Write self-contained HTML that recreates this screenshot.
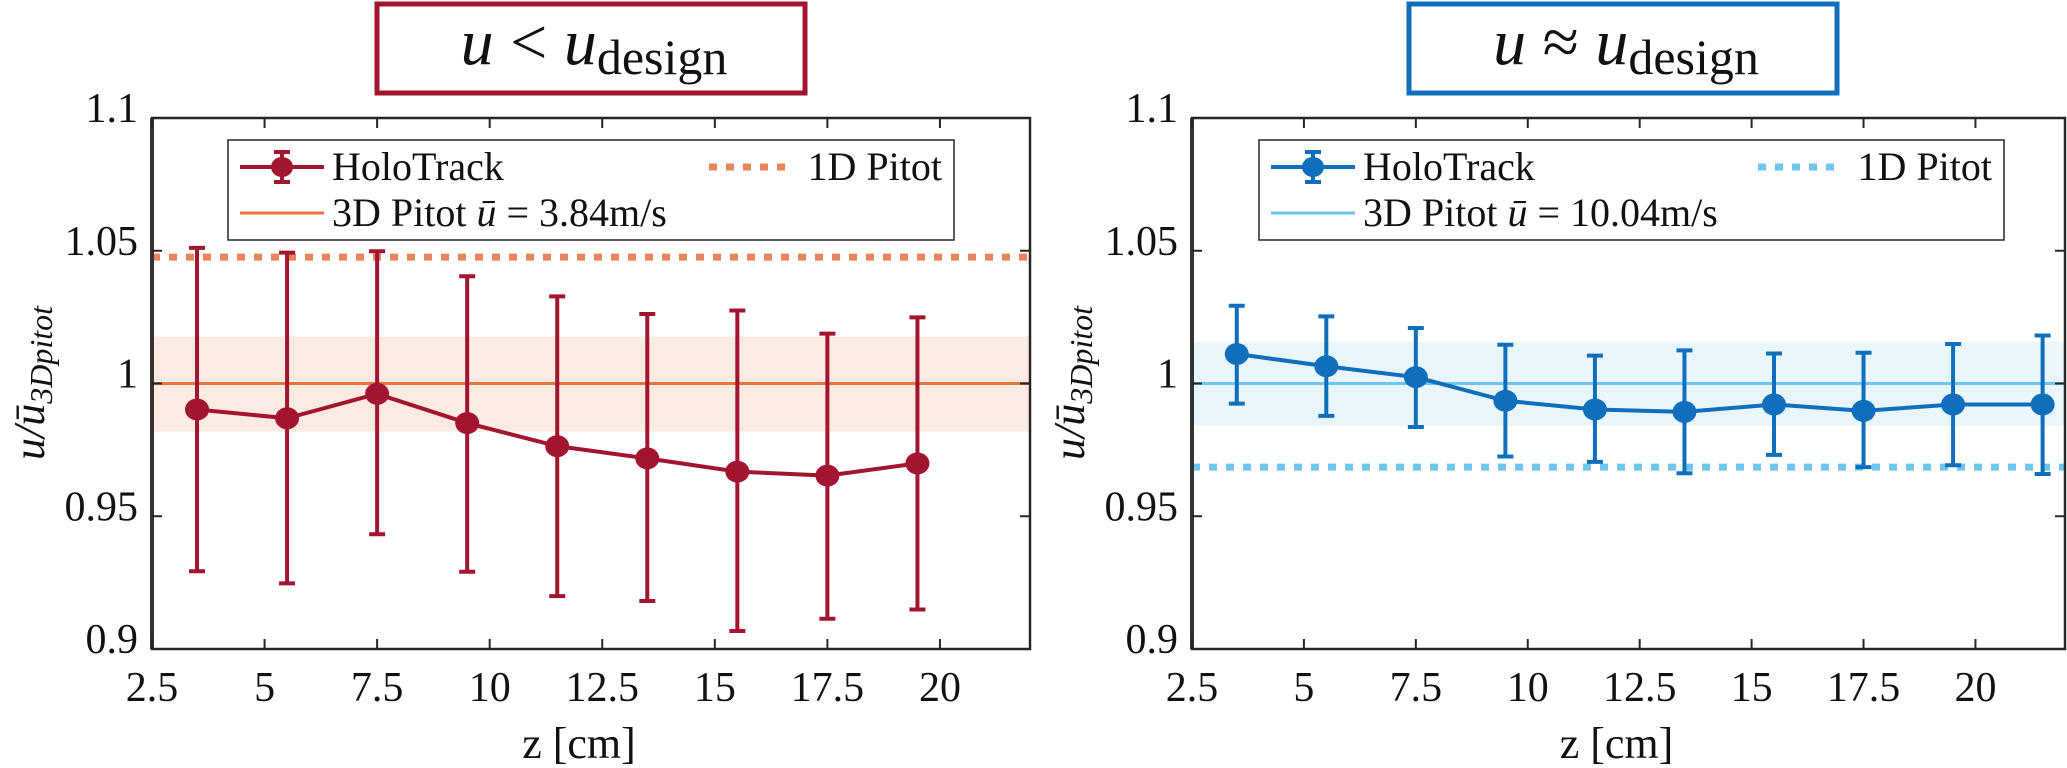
<!DOCTYPE html>
<html><head><meta charset="utf-8"><style>
html,body{margin:0;padding:0;background:#fff;}
svg{display:block;font-family:"Liberation Serif","DejaVu Serif",serif;}
text{font-family:"Liberation Serif","DejaVu Serif",serif;}
</style></head><body>
<svg id="chart" width="2067" height="768" viewBox="0 0 2067 768" xmlns="http://www.w3.org/2000/svg" font-family="Liberation Serif, serif"></svg>
<script>
const zLeft = [3.5,5.5,7.5,9.5,11.5,13.5,15.5,17.5,19.5];
const valLeft = [0.9902,0.9869,0.9961,0.9851,0.9764,0.9718,0.9668,0.9653,0.9699];
const hiLeft = [1.0511,1.0493,1.0498,1.0404,1.0328,1.0262,1.0275,1.0188,1.0249];
const loLeft = [0.9293,0.9247,0.9432,0.9291,0.9199,0.9181,0.9068,0.9114,0.9149];
const pitot1DLeft = 1.0476;
const bandLeft = [0.9819,1.0177];
const zRight = [3.5,5.5,7.5,9.5,11.5,13.5,15.5,17.5,19.5,21.5];
const valRight = [1.0111,1.0065,1.0024,0.9935,0.9902,0.9893,0.9921,0.9897,0.9921,0.9921];
const hiRight = [1.0293,1.0253,1.0209,1.0146,1.0105,1.0125,1.0113,1.0116,1.0149,1.0181];
const loRight = [0.9924,0.9878,0.9836,0.9725,0.9705,0.9662,0.9731,0.9685,0.9692,0.9659];
const pitot1DRight = 0.9685;
const bandRight = [0.9841,1.0157];
const xTicks = [2.5,5,7.5,10,12.5,15,17.5,20];
const xTickLabels = ["2.5","5","7.5","10","12.5","15","17.5","20"];
const yTicks = [0.9,0.95,1,1.05,1.1];
const yTickLabels = ["0.9","0.95","1","1.05","1.1"];

const NS="http://www.w3.org/2000/svg";
const svg=document.getElementById('chart');
const FF='"Liberation Serif", "DejaVu Serif", serif';
function mk(tag,attrs,parent,text){const e=document.createElementNS(NS,tag);for(const k in attrs)e.setAttribute(k,attrs[k]);if(tag==='text')e.setAttribute('font-family',FF);if(text!==undefined)e.textContent=text;(parent||svg).appendChild(e);return e;}

function panel(p){
  const g=mk('g',{});
  
  
  const L=p.x0,R=p.x1,T=118,B=649;
  const xs=v=>L+(v-2.5)/(22-2.5)*(R-L);
  const ys=v=>B-(v-0.9)/(0.2)*(B-T);
  const band=mk('rect',{x:L,y:ys(p.band[1]),width:R-L,height:ys(p.band[0])-ys(p.band[1]),fill:p.bandCol},g);
  
  
  const l3=mk('line',{x1:L,x2:R,y1:ys(1),y2:ys(1),stroke:p.light,'stroke-width':3},g);
  
  
  const l1=mk('line',{x1:L,x2:R,y1:ys(p.p1d),y2:ys(p.p1d),stroke:p.dot,'stroke-width':7,'stroke-dasharray':'8 9'},g);
  
  
  for(let i=0;i<p.z.length;i++){
    const x=xs(p.z[i]);
    const eb=mk('path',{d:`M${x},${ys(p.lo[i])}V${ys(p.hi[i])}M${x-8},${ys(p.lo[i])}h16M${x-8},${ys(p.hi[i])}h16`,stroke:p.col,'stroke-width':4,fill:'none'},g);
    
    
  }
  const pl=mk('polyline',{points:p.z.map((z,i)=>xs(z)+','+ys(p.v[i])).join(' '),fill:'none',stroke:p.col,'stroke-width':4},g);
  
  
  for(let i=0;i<p.z.length;i++){
    const c=mk('ellipse',{cx:xs(p.z[i]),cy:ys(p.v[i]),rx:12,ry:11,fill:p.col},g);
    
    
  }
  const ax=mk('rect',{x:L,y:T,width:R-L,height:B-T,fill:'none',stroke:'#262626','stroke-width':2.5},g);
  
  
  mk('line',{x1:L,x2:L,y1:T,y2:B,stroke:'#333','stroke-width':4},g);
  xTicks.forEach((t,i)=>{
    const x=xs(t);
    mk('path',{d:`M${x},${B}v-10M${x},${T}v10`,stroke:'#262626','stroke-width':2},g);
    const tl=mk('text',{x:x,y:B+52,'font-size':42,'text-anchor':'middle',fill:'#111'},g,xTickLabels[i]);
    
    
  });
  yTicks.forEach((t,i)=>{
    const y=ys(t);
    mk('path',{d:`M${L},${y}h10M${R},${y}h-10`,stroke:'#262626','stroke-width':2},g);
    const tl=mk('text',{x:L-14,y:y+4,'font-size':42,'text-anchor':'end',fill:'#111'},g,yTickLabels[i]);
    
    
  });
  const xt=mk('text',{x:(L+R)/2-12,y:758,'font-size':44,'text-anchor':'middle',fill:'#111'},g,'z [cm]');
  
  
  const yt=mk('text',{transform:`translate(${L-108},383) rotate(-90)`,'font-size':44,'text-anchor':'middle','font-style':'italic',fill:'#111'},g);
  
  
  mk('tspan',{},yt,'u/ū');
  mk('tspan',{'font-size':32,dy:8},yt,'3Dpitot');
  const tb=mk('rect',{x:p.tx,y:4,width:428,height:89,fill:'#fff',stroke:p.col,'stroke-width':5},g);
  
  
  const tt=mk('text',{x:p.tx+217,y:64,'font-size':66,'text-anchor':'middle',fill:'#111'},g);
  
  
  mk('tspan',{'font-style':'italic'},tt,'u');
  mk('tspan',{},tt,' '+p.rel+' ');
  mk('tspan',{'font-style':'italic'},tt,'u');
  mk('tspan',{'font-size':50,dy:10},tt,'design');
  const lx=p.lx, lw=p.lw;
  const lg=mk('g',{},g);
  
  
  mk('rect',{x:lx,y:140,width:lw,height:100,fill:'#fff',stroke:'#262626','stroke-width':1.5},lg);
  mk('path',{d:`M${lx+12},${167}h84M${lx+54},${152}v30M${lx+46},${152}h16M${lx+46},${182}h16`,stroke:p.col,'stroke-width':4,fill:'none'},lg);
  mk('ellipse',{cx:lx+54,cy:167,rx:11,ry:10,fill:p.col},lg);
  const e1=mk('text',{x:lx+104,y:180,'font-size':40,fill:'#111'},lg,'HoloTrack');
  
  
  mk('line',{x1:lx+12,x2:lx+96,y1:213,y2:213,stroke:p.light,'stroke-width':3},lg);
  const e2=mk('text',{x:lx+104,y:226,'font-size':40,fill:'#111'},lg);
  
  
  mk('tspan',{},e2,'3D Pitot ');
  mk('tspan',{'font-style':'italic'},e2,'ū');
  mk('tspan',{},e2,' = '+p.speed);
  mk('line',{x1:p.dx,x2:p.dx+78,y1:167,y2:167,stroke:p.dot,'stroke-width':7,'stroke-dasharray':'8 9'},lg);
  const e3=mk('text',{x:lw+lx-12,y:180,'font-size':40,'text-anchor':'end',fill:'#111'},lg,'1D Pitot');
  
  
}
panel({name:'left-panel',x0:152,x1:1030,z:zLeft,v:valLeft,hi:hiLeft,lo:loLeft,p1d:pitot1DLeft,band:bandLeft,
  col:'#a2142f',light:'#e8743b',dot:'#e8845a',bandCol:'#fbebe3',tx:377,rel:'<',lx:228,lw:726,dx:709,speed:'3.84m/s'});
panel({name:'right-panel',x0:1192,x1:2065,z:zRight,v:valRight,hi:hiRight,lo:loRight,p1d:pitot1DRight,band:bandRight,
  col:'#0f6fbd',light:'#6ec6ee',dot:'#6ec6ee',bandCol:'#e9f6fc',tx:1409,rel:'≈',lx:1259,lw:745,dx:1758,speed:'10.04m/s'});
</script>
</body></html>
